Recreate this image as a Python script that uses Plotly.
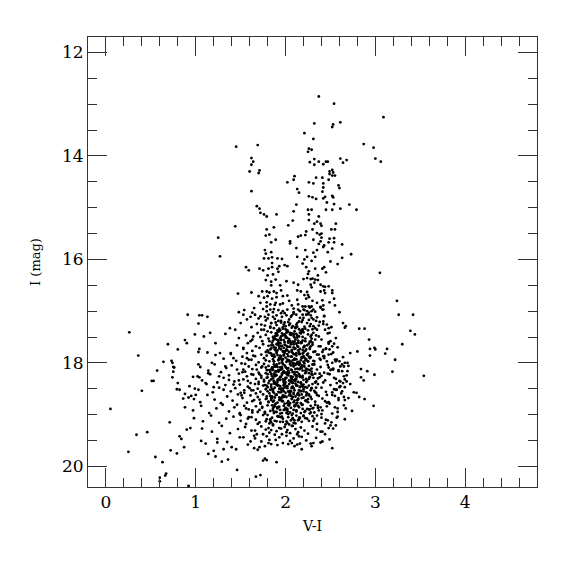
import plotly.graph_objects as go

# ---- data: (V-I, I) ----
stars_upper = [
    (1.45,13.82),(1.69,13.79),(1.62,14.04),(1.64,14.11),(1.62,14.17),(1.60,14.30),(1.71,14.28),(1.70,14.33),
    (1.62,14.68),(1.68,14.97),(1.71,15.02),(1.72,15.10),(1.76,15.13),(1.79,15.17),(1.90,15.13),(2.02,14.51),
    (2.09,14.46),(2.10,14.39),(2.13,14.64),(2.15,14.71),(2.12,14.94),(2.09,15.07),
    (2.37,12.85),(2.54,12.99),(3.09,13.25),(2.32,13.37),(2.53,13.39),(2.52,13.44),(2.61,13.35),(2.21,13.56),
    (2.31,13.67),(2.26,13.86),(2.29,13.88),(2.25,13.92),(2.87,13.77),(2.98,13.84),(3.00,14.05),(3.06,14.11),
    (2.27,14.12),(2.32,14.06),(2.32,14.17),(2.37,14.11),(2.42,14.16),(2.45,14.11),(2.47,14.11),(2.61,14.05),
    (2.64,14.13),(2.68,14.08),(2.52,14.27),(2.49,14.30),(2.53,14.32),(2.49,14.35),(2.52,14.38),(2.55,14.38),
    (2.34,14.42),(2.41,14.42),(2.48,14.46),(2.26,14.51),(2.31,14.53),(2.42,14.53),(2.59,14.57),(2.60,14.62),
    (2.42,14.61),(2.41,14.69),(2.26,14.78),(2.30,14.80),(2.34,14.83),(2.42,14.82),(2.44,14.79),(2.52,14.77),
    (2.53,14.80),(2.46,14.90),(2.54,14.93),(2.71,14.94),(2.25,15.04),(2.29,15.04),(2.45,15.04),(2.52,15.04),
    (2.61,15.02),(2.79,15.04),(2.26,15.13),(2.37,15.17),
]

stars_branch = [
    (1.44,15.36),(1.25,15.58),(1.27,15.94),(2.03,15.34),(2.08,15.25),(1.79,15.42),(1.87,15.38),(1.78,15.54),
    (1.82,15.52),(1.84,15.67),(1.89,15.62),(2.05,15.65),(2.05,15.69),(2.14,15.56),(2.12,15.78),(1.77,15.82),
    (1.78,15.89),(1.84,15.86),(1.76,15.98),(1.81,15.98),(1.85,15.96),(1.85,16.07),(1.91,15.98),(1.96,15.99),
    (2.13,15.95),(1.56,16.15),(1.59,16.21),(1.71,16.18),(1.75,16.21),(1.81,16.18),(1.85,16.15),(1.91,16.18),
    (1.93,16.13),(1.99,16.11),(2.02,16.13),(1.92,16.24),(1.80,16.31),(1.86,16.29),(1.78,16.40),(1.84,16.43),
    (1.89,16.39),(1.84,16.50),(1.94,16.50),(2.01,16.42),(2.09,16.45),(2.14,16.49),(2.13,16.60),(1.47,16.66),
    (1.62,16.64),(1.74,16.62),(1.79,16.62),(1.82,16.64),(1.87,16.62),(1.90,16.65),(1.95,16.60),(1.70,16.71),
    (1.76,16.74),(1.80,16.71),(1.85,16.76),(1.90,16.73),(1.97,16.71),(2.02,16.70),(2.04,16.80),(2.13,16.78),
    (1.72,16.84),(1.79,16.83),(1.83,16.87),(1.89,16.84),(1.94,16.87),(2.07,16.89),(2.14,16.87),(1.48,17.02),
    (1.54,16.98),(1.65,16.94),(1.75,16.96),(1.79,17.00),(1.83,16.97),(1.87,16.96),(1.92,16.98),(1.97,17.00),
    (2.02,16.97),(2.09,17.02),(1.61,17.11),(1.66,17.07),(1.72,17.10),(1.77,17.11),(1.81,17.07),(1.86,17.11),
    (1.90,17.08),(1.96,17.11),(2.01,17.08),(2.06,17.11),(2.12,17.07),(1.07,17.08),
    (2.26,15.24),(2.32,15.31),(2.35,15.27),(2.39,15.31),(2.40,15.35),(2.56,15.31),(2.51,15.42),(2.55,15.42),
    (2.30,15.42),(2.23,15.46),(2.17,15.54),(2.22,15.53),(2.35,15.49),(2.38,15.52),(2.40,15.50),(2.31,15.62),
    (2.40,15.58),(2.39,15.65),(2.49,15.60),(2.54,15.59),(2.48,15.67),(2.54,15.67),(2.63,15.71),(2.37,15.70),
    (2.42,15.76),(2.43,15.73),(2.52,15.79),(2.22,15.82),(2.31,15.87),(2.35,15.82),(2.47,15.86),(2.73,15.90),
    (2.24,15.95),(2.33,15.95),(2.63,15.97),(2.21,16.00),(2.29,16.03),(2.50,16.04),(2.58,16.09),(2.19,16.08),
    (2.23,16.15),(2.33,16.18),(2.41,16.18),(2.43,16.15),(2.45,16.25),(3.05,16.26),(2.26,16.23),(2.36,16.31),
    (2.25,16.28),(2.20,16.38),(2.24,16.36),(2.28,16.38),(2.30,16.37),(2.33,16.39),(2.36,16.40),(2.28,16.49),
    (2.32,16.45),(2.39,16.49),(2.42,16.52),(2.44,16.53),(2.48,16.52),(2.29,16.54),(2.39,16.62),(2.43,16.60),
    (2.44,16.65),(2.52,16.60),(2.52,16.65),(2.17,16.62),(2.24,16.63),(2.21,16.69),(2.25,16.69),(2.26,16.73),
    (2.23,16.76),(2.30,16.80),(2.35,16.84),(2.41,16.79),(2.49,16.83),(2.54,16.76),(3.24,16.80),(2.55,16.89),
    (2.19,16.91),(2.26,16.91),(2.29,16.91),(2.39,16.93),(2.42,16.89),(2.42,16.97),(2.16,17.00),(2.21,16.98),
    (2.24,17.00),(2.29,17.00),(2.33,17.01),(2.60,17.02),(2.19,17.07),(2.23,17.07),(2.28,17.08),(2.43,17.10),
    (3.26,17.07),(3.42,17.07),(2.16,17.13),(2.29,17.13),
]

stars_left = [
    (0.91,17.07),(1.04,17.08),(1.03,17.24),(0.26,17.41),(0.99,17.45),(0.88,17.56),(0.90,17.62),(0.69,17.64),
    (0.80,17.74),(1.04,17.73),(1.03,17.79),(0.36,17.86),(0.64,17.98),(0.73,17.96),(0.74,18.00),(0.75,18.08),
    (0.76,18.09),(1.03,18.03),(0.57,18.15),(0.75,18.17),(1.02,18.26),(1.04,18.28),(0.74,18.28),(0.51,18.35),
    (0.53,18.35),(0.80,18.39),(0.40,18.54),(0.79,18.51),(0.82,18.52),(0.99,18.50),(0.88,18.60),(1.00,18.62),
    (0.92,18.67),(0.98,18.70),
    (0.05,18.89),(0.71,19.15),(0.34,19.39),(0.46,19.34),(0.25,19.72),(0.55,19.82),(0.63,19.92),(0.72,19.69),
    (0.79,19.75),(0.82,19.42),(0.84,19.47),(0.90,19.29),(0.94,19.26),(0.87,19.63),(0.67,20.14),(0.66,20.18),
    (0.60,20.22),(0.60,20.29),(0.92,20.38),(1.46,20.07),(1.67,20.20),(1.72,20.17),(1.90,19.92),(1.75,19.89),
    (1.77,19.85),(1.79,19.88),(1.65,19.65),(1.69,19.68),(1.71,19.63),(1.77,19.61),(1.29,19.91),(1.36,19.87),
    (1.14,19.76),(1.20,19.70),(1.22,19.81),(1.40,19.63),(1.45,19.67),(1.11,19.56),(1.06,19.51),(1.31,19.67),
    (1.24,19.54),(2.10,19.61),(2.18,19.67),(2.16,19.56),(2.07,19.55),(2.31,19.55),(2.29,19.61),(2.39,19.54),
    (2.52,19.65),
    (1.13,17.11),(1.16,17.42),(1.09,17.49),(1.33,17.44),(1.38,17.33),(1.44,17.36),(1.50,17.23),(1.53,17.07),
    (1.57,17.16),(1.63,17.03),(1.48,17.52),(1.22,17.62),(1.27,17.81),(1.13,17.80),(1.39,17.81),(1.42,17.91),
    (1.53,17.71),(1.61,17.58),(1.64,17.49),(1.18,18.00),(1.33,18.07),(1.14,18.20),(1.26,18.26),(1.37,18.33),
    (1.11,18.39),(1.20,18.47),(1.31,18.52),(1.42,18.42),(1.50,18.58),(1.53,18.13),(1.59,17.94),
]

stars_right = [
    (2.98,18.83),(3.39,17.38),(3.44,17.45),(3.30,17.64),(2.82,17.34),(2.88,17.34),(2.64,17.23),(2.67,17.29),
    (2.66,17.32),(2.93,17.55),(2.94,17.73),(2.99,17.71),(3.00,17.74),(3.13,17.73),(3.11,17.82),(2.94,17.86),
    (2.80,17.78),(2.72,17.81),(3.22,17.94),(3.19,18.17),(3.54,18.25),(2.99,18.23),(2.84,18.12),(2.91,18.16),
    (2.84,18.28),(2.87,18.34),(2.76,18.57),(2.79,18.58),(2.82,18.66),(2.88,18.70),(2.66,18.00),(2.69,18.00),
    (2.65,18.07),(2.61,18.07),(2.56,17.97),(2.63,18.16),(2.59,18.14),(2.53,18.13),(2.50,18.14),(2.66,18.32),
    (2.68,18.36),(2.64,18.39),(2.57,18.39),(2.60,18.47),(2.63,18.55),(2.56,18.52),(2.52,18.57),(2.55,18.64),
    (2.65,18.66),(2.54,17.63),(2.49,17.74),(2.53,17.80),(2.45,17.73),(2.48,17.60),(2.50,17.58),(2.49,17.42),
    (2.48,17.33),(2.46,17.26),(2.42,17.20),(2.43,17.09),(2.41,16.97),(2.39,16.92),(2.55,17.94),(2.60,17.97),
    (2.52,18.00),(2.46,17.97),(2.39,17.94),(2.42,17.87),(2.37,17.84),(2.39,17.68),(2.33,17.55),(2.37,17.49),
    (2.31,17.42),(2.35,17.36),(2.27,17.29),(2.24,17.23),(2.31,17.16),(2.20,17.13),(2.26,17.03),(2.20,16.97),
    (2.31,16.97),(2.22,16.91),
]

# dense clump, band by band (V-I list, I list)
vi_b170 = [1.78,1.88,1.95,2.04,2.15,2.26,2.34,1.70,1.99,2.09]
i_b170 = [17.18,17.15,17.19,17.16,17.20,17.17,17.19,17.14,17.04,17.05]
vi_b172 = [1.62,1.68,1.73,1.77,1.80,1.84,1.87,1.90,1.92,1.95,1.97,2.00,2.02,2.05,2.07,2.10,2.12,2.15,2.18,2.21,
           2.25,2.28,2.33,2.37,2.44,2.51,1.83,1.93,2.03,2.13,1.98,2.08,1.89,2.19,2.30]
i_b172 = [17.31,17.25,17.36,17.28,17.39,17.23,17.33,17.27,17.38,17.22,17.34,17.29,17.37,17.24,17.32,17.39,17.26,17.35,17.21,17.30,
          17.37,17.25,17.33,17.28,17.36,17.31,17.30,17.34,17.21,17.23,17.26,17.29,17.22,17.38,17.35]
vi_b174 = [1.56,1.63,1.69,1.74,1.78,1.81,1.84,1.86,1.88,1.90,1.92,1.94,1.96,1.98,2.00,2.02,2.04,2.06,2.08,2.10,2.12,2.14,2.16,
           2.19,2.22,2.25,2.29,2.34,2.40,2.47,2.56,1.87,1.91,1.95,1.99,2.03,2.07,2.11,2.15,2.20,1.82,2.01,2.09,2.27,1.72]
i_b174 = [17.47,17.55,17.42,17.58,17.46,17.53,17.41,17.57,17.49,17.44,17.59,17.52,17.43,17.56,17.48,17.41,17.54,17.46,17.59,17.51,
          17.44,17.57,17.42,17.50,17.58,17.45,17.53,17.47,17.55,17.43,17.52,17.52,17.47,17.56,17.45,17.58,17.43,17.55,17.49,17.41,
          17.58,17.51,17.48,17.59,17.50]
vi_b176 = [1.46,1.53,1.58,1.63,1.67,1.71,1.75,1.78,1.81,1.83,1.85,1.87,1.89,1.91,1.93,1.95,1.97,1.99,2.01,2.03,2.05,2.07,2.09,
           2.11,2.13,2.15,2.17,2.19,2.21,2.24,2.27,2.30,2.33,2.37,2.42,2.48,2.58,1.86,1.90,1.94,1.98,2.02,2.06,2.10,2.14,2.18,
           2.22,1.88,1.96,2.04,2.12,2.20,1.80,2.28,1.92]
i_b176 = [17.66,17.73,17.62,17.77,17.68,17.71,17.64,17.79,17.67,17.74,17.61,17.70,17.76,17.63,17.72,17.68,17.78,17.65,17.74,17.61,
          17.69,17.77,17.64,17.72,17.67,17.79,17.62,17.75,17.69,17.66,17.73,17.61,17.78,17.68,17.75,17.63,17.70,17.66,17.79,17.62,
          17.71,17.76,17.64,17.73,17.69,17.61,17.77,17.74,17.67,17.79,17.63,17.70,17.76,17.68,17.65]
vi_b178 = [1.22,1.31,1.39,1.45,1.52,1.57,1.62,1.66,1.70,1.73,1.76,1.79,1.82,1.84,1.86,1.88,1.90,1.92,1.94,1.96,1.98,2.00,2.02,
           2.04,2.06,2.08,2.10,2.12,2.14,2.16,2.18,2.20,2.22,2.25,2.28,2.31,2.35,2.38,2.43,2.51,2.57,2.64,1.87,1.91,1.95,1.99,
           2.03,2.07,2.11,2.15,2.19,2.23,1.85,1.93,2.01,2.09,2.17,1.81,2.26,1.97]
i_b178 = [17.85,17.92,17.83,17.96,17.88,17.81,17.94,17.87,17.99,17.84,17.91,17.86,17.97,17.82,17.93,17.88,17.81,17.95,17.86,17.99,
          17.84,17.90,17.83,17.97,17.88,17.81,17.94,17.86,17.98,17.83,17.91,17.87,17.95,17.82,17.89,17.96,17.84,17.92,17.87,17.83,
          17.94,17.89,17.97,17.85,17.92,17.81,17.96,17.88,17.84,17.99,17.82,17.93,17.86,17.90,17.98,17.83,17.95,17.80,17.88,17.93]
vi_b180 = [1.05,1.14,1.21,1.28,1.34,1.40,1.46,1.51,1.55,1.59,1.63,1.67,1.70,1.73,1.76,1.79,1.81,1.83,1.85,1.87,1.89,1.91,1.93,
           1.95,1.97,1.99,2.01,2.03,2.05,2.07,2.09,2.11,2.13,2.15,2.17,2.19,2.21,2.23,2.26,2.29,2.32,2.35,2.39,2.43,2.47,2.53,
           2.59,2.70,1.86,1.90,1.94,1.98,2.02,2.06,2.10,2.14,2.18,2.22,1.88,1.96,2.04,2.12,2.20,1.84,1.92,2.00,2.08,2.16,1.78,2.27]
i_b180 = [18.08,18.15,18.03,18.18,18.10,18.05,18.13,18.01,18.17,18.07,18.12,18.04,18.19,18.09,18.02,18.14,18.06,18.18,18.11,18.03,
          18.16,18.08,18.01,18.13,18.19,18.05,18.10,18.17,18.02,18.14,18.07,18.12,18.18,18.04,18.09,18.15,18.01,18.11,18.06,18.17,
          18.03,18.13,18.08,18.19,18.04,18.11,18.16,18.06,18.14,18.03,18.09,18.16,18.12,18.05,18.18,18.01,18.10,18.15,18.07,18.11,
          18.19,18.02,18.06,18.13,18.17,18.08,18.01,18.12,18.09,18.14]
vi_b182 = [0.97,1.07,1.16,1.24,1.31,1.37,1.43,1.48,1.53,1.57,1.61,1.64,1.67,1.70,1.73,1.76,1.78,1.80,1.82,1.84,1.86,1.88,1.90,
           1.92,1.94,1.96,1.98,2.00,2.02,2.04,2.06,2.08,2.10,2.12,2.14,2.16,2.18,2.20,2.22,2.24,2.27,2.30,2.33,2.36,2.40,2.44,
           2.49,2.54,2.61,2.68,1.87,1.91,1.95,1.99,2.03,2.07,2.11,2.15,2.19,2.23,1.85,1.93,2.01,2.09,2.17,1.89,1.97,2.05,2.13,
           1.79,2.26,1.71,1.58,2.38,2.47]
i_b182 = [18.27,18.34,18.22,18.38,18.29,18.24,18.36,18.21,18.32,18.26,18.39,18.23,18.31,18.37,18.25,18.33,18.20,18.28,18.35,18.22,
          18.30,18.38,18.24,18.32,18.27,18.21,18.36,18.29,18.23,18.34,18.26,18.39,18.22,18.31,18.37,18.25,18.28,18.33,18.20,18.35,
          18.27,18.23,18.38,18.30,18.25,18.34,18.22,18.29,18.36,18.24,18.21,18.33,18.27,18.39,18.24,18.31,18.35,18.22,18.28,18.37,
          18.26,18.30,18.21,18.34,18.38,18.23,18.32,18.36,18.26,18.29,18.31,18.22,18.35,18.28,18.21]
vi_b184 = [0.93,1.03,1.12,1.19,1.26,1.33,1.39,1.44,1.49,1.54,1.58,1.62,1.66,1.69,1.72,1.75,1.78,1.80,1.82,1.84,1.86,1.88,1.90,
           1.92,1.94,1.96,1.98,2.00,2.02,2.04,2.06,2.08,2.10,2.12,2.14,2.16,2.18,2.20,2.23,2.26,2.29,2.32,2.36,2.40,2.45,2.50,
           2.57,2.66,1.87,1.91,1.95,1.99,2.03,2.07,2.11,2.15,2.19,1.85,1.93,2.01,2.09,2.17,1.77,1.89,1.97,2.05,2.13,2.24,1.64,2.34]
i_b184 = [18.45,18.52,18.41,18.57,18.48,18.43,18.55,18.49,18.42,18.58,18.46,18.53,18.41,18.50,18.56,18.44,18.51,18.47,18.59,18.42,
          18.54,18.48,18.41,18.56,18.45,18.52,18.43,18.58,18.49,18.41,18.55,18.46,18.53,18.44,18.59,18.47,18.42,18.51,18.57,18.44,
          18.49,18.54,18.41,18.48,18.56,18.43,18.52,18.47,18.58,18.44,18.50,18.42,18.55,18.47,18.40,18.53,18.46,18.51,18.57,18.45,
          18.49,18.54,18.43,18.41,18.50,18.56,18.44,18.48,18.53,18.58]
vi_b186 = [0.86,0.95,1.05,1.13,1.21,1.28,1.35,1.41,1.47,1.52,1.57,1.61,1.65,1.69,1.72,1.75,1.78,1.81,1.83,1.85,1.87,1.89,1.91,
           1.93,1.95,1.97,1.99,2.01,2.03,2.05,2.07,2.09,2.11,2.13,2.15,2.17,2.20,2.23,2.26,2.29,2.33,2.37,2.41,2.46,2.52,2.59,
           2.70,1.86,1.90,1.94,1.98,2.02,2.06,2.10,2.14,2.18,1.88,1.96,2.04,2.12,1.79,2.25,1.63,2.35,2.48]
i_b186 = [18.69,18.64,18.76,18.62,18.71,18.78,18.65,18.73,18.61,18.68,18.77,18.63,18.72,18.66,18.79,18.61,18.70,18.75,18.64,18.68,
          18.73,18.62,18.77,18.67,18.71,18.63,18.79,18.66,18.74,18.61,18.69,18.76,18.65,18.72,18.63,18.78,18.67,18.73,18.61,18.70,
          18.75,18.64,18.69,18.77,18.62,18.72,18.68,18.75,18.62,18.71,18.66,18.78,18.64,18.73,18.69,18.61,18.67,18.74,18.63,18.79,
          18.65,18.70,18.74,18.62,18.76]
vi_b188 = [0.88,0.97,1.06,1.15,1.23,1.30,1.37,1.43,1.49,1.54,1.59,1.63,1.67,1.71,1.74,1.77,1.80,1.83,1.86,1.88,1.90,1.92,1.94,
           1.96,1.98,2.00,2.02,2.04,2.06,2.08,2.10,2.12,2.15,2.18,2.21,2.24,2.28,2.32,2.36,2.41,2.46,2.52,2.58,2.65,2.74,1.87,
           1.93,1.99,2.05,2.11,1.91,2.03,1.69,2.26,2.39]
i_b188 = [18.86,18.92,18.83,18.97,18.88,18.81,18.94,18.86,18.99,18.83,18.90,18.96,18.84,18.91,18.87,18.98,18.82,18.93,18.88,18.81,
          18.95,18.85,18.91,18.97,18.83,18.89,18.94,18.82,18.87,18.98,18.84,18.92,18.86,18.81,18.95,18.89,18.83,18.96,18.87,18.92,
          18.84,18.98,18.88,18.82,18.93,18.97,18.85,18.91,18.96,18.83,18.88,18.82,18.95,18.90,18.86]
vi_b190 = [0.98,1.08,1.17,1.26,1.34,1.42,1.50,1.56,1.62,1.67,1.71,1.75,1.79,1.82,1.85,1.88,1.91,1.94,1.97,2.00,2.03,2.06,2.09,
           2.12,2.15,2.18,2.22,2.26,2.30,2.35,2.40,2.45,2.51,2.58,2.66,1.90,1.96,2.02,2.08,2.14,1.86,2.20,1.78,2.32,2.44]
i_b190 = [19.07,19.13,19.02,19.16,19.08,19.04,19.12,19.18,19.05,19.10,19.15,19.01,19.09,19.17,19.06,19.12,19.03,19.14,19.08,19.19,
          19.05,19.11,19.16,19.02,19.09,19.14,19.07,19.12,19.03,19.18,19.06,19.10,19.15,19.04,19.09,19.13,19.04,19.16,19.07,19.11,
          19.19,19.03,19.13,19.08,19.17]
vi_b192 = [1.07,1.18,1.29,1.38,1.47,1.55,1.62,1.68,1.73,1.78,1.82,1.86,1.90,1.93,1.96,1.99,2.02,2.05,2.08,2.11,2.14,2.17,2.21,
           2.25,2.30,2.35,2.41,2.48,2.56,1.88,1.95,2.01,2.07,2.13,1.84]
i_b192 = [19.27,19.33,19.22,19.36,19.28,19.24,19.31,19.38,19.23,19.29,19.35,19.21,19.32,19.26,19.38,19.24,19.30,19.36,19.22,19.28,
          19.34,19.25,19.31,19.37,19.23,19.29,19.33,19.26,19.21,19.39,19.27,19.34,19.22,19.38,19.30]
vi_b194 = [1.24,1.35,1.49,1.58,1.66,1.73,1.79,1.84,1.89,1.93,1.97,2.01,2.05,2.09,2.13,2.18,2.23,2.28,2.34,2.41,2.49,1.91,2.03,
           1.81,2.15]
i_b194 = [19.47,19.53,19.44,19.58,19.46,19.52,19.42,19.57,19.49,19.44,19.55,19.41,19.51,19.46,19.58,19.43,19.50,19.56,19.45,19.52,
          19.48,19.59,19.57,19.55,19.42]

# extra stars filling the crowded core and its flanks
vi_core_a = [2.17,1.89,2.05,1.93,2.28,1.84,2.11,1.99,2.23,1.87,2.02,2.14,1.95,2.31,1.91,2.08,2.19,1.85,2.04,1.97,2.26,2.13,1.88,
             2.00,2.21,1.94,2.09,1.83,2.16,2.06,1.92,2.24,2.01,1.86,2.12,1.98,2.29,2.03,1.90,2.18,2.07,1.96,2.22,1.84,2.10,2.15,
             1.89,2.27,2.05,1.93,2.20,1.99,2.13,1.87,2.30,2.02,1.95,2.09,2.25,1.91]
i_core_a = [17.43,17.71,17.58,17.92,17.49,17.66,17.83,17.45,17.74,17.97,17.52,17.61,17.88,17.79,17.41,17.95,17.57,17.86,17.69,17.47,
            17.63,17.99,17.54,17.77,17.90,17.62,17.44,17.81,17.73,17.98,17.56,17.85,17.67,17.50,17.93,17.78,17.46,17.87,17.64,17.40,
            17.75,17.96,17.53,17.72,17.59,17.82,17.48,17.91,17.42,17.68,17.80,17.60,17.51,17.84,17.65,17.94,17.55,17.70,17.97,17.76]
vi_core_b = [1.94,2.21,1.83,2.08,2.30,1.97,2.14,1.88,2.02,2.25,1.91,2.17,1.85,2.06,2.33,1.99,2.11,1.81,2.23,2.04,1.93,2.19,1.87,
             2.09,2.28,1.96,2.13,1.84,2.01,2.24,1.90,2.16,2.07,1.82,2.31,1.98,2.12,1.86,2.20,2.03,1.95,2.27,1.89,2.10,2.18,1.92,
             2.05,2.34,1.80,2.15,2.00,2.22,1.87,2.09,1.96,2.26,2.12,1.84,2.03,2.19,1.93,2.29,2.07,1.98,2.14]
i_core_b = [18.33,18.07,18.52,18.18,18.41,18.02,18.58,18.26,18.45,18.13,18.37,18.55,18.09,18.29,18.21,18.48,18.04,18.39,18.31,18.57,
            18.15,18.44,18.35,18.01,18.53,18.23,18.11,18.46,18.19,18.59,18.06,18.27,18.49,18.14,18.03,18.38,18.24,18.56,18.42,18.10,
            18.51,18.28,18.17,18.34,18.05,18.43,18.54,18.36,18.22,18.12,18.30,18.47,18.40,18.58,18.08,18.20,18.44,18.32,18.16,18.25,
            18.50,18.11,18.38,18.55,18.02]
vi_core_c = [2.08,1.86,2.23,1.95,2.14,1.79,2.01,2.30,1.90,2.17,1.83,2.05,2.26,1.98,2.11,1.87,2.20,1.93,2.03,2.33,1.77,2.10,1.96,
             2.24,1.89,2.15,2.00,1.84,2.28,2.07,1.92,2.19,1.81,2.12,1.99,2.31,1.88,2.04,2.22,1.94,2.16,1.85,2.09,2.27,1.97,2.13,
             1.80,2.02,2.18,1.91]
i_core_c = [18.66,18.92,18.74,19.05,18.83,18.69,19.13,18.88,18.61,18.97,19.09,18.78,18.63,18.91,19.17,18.85,19.02,18.72,18.99,18.81,
            18.95,19.11,18.67,19.08,18.79,18.62,18.87,19.15,18.96,18.70,19.04,18.89,18.76,18.94,18.64,19.12,18.84,19.19,18.73,18.98,
            19.06,18.82,18.60,18.90,19.14,18.77,19.01,18.93,18.68,18.86]
vi_core_d = [2.06,1.92,2.19,1.87,2.12,2.00,2.25,1.95,2.09,1.89,2.15,2.03,2.28,1.97,2.10,1.86,2.21,2.01,1.93,2.16,2.07,1.90,2.23,
             1.98,2.13,1.88,2.04,2.27,1.96,2.11,2.18,1.91,2.05,2.30,1.99,2.14,1.87,2.08,2.20,1.94,2.02,2.24,1.89,2.17,2.06,1.95,
             2.12,2.29,1.92,2.01]
i_core_d = [17.62,18.14,17.35,17.88,18.26,17.51,17.97,17.74,18.05,17.43,17.83,18.21,17.58,17.31,17.92,18.09,17.67,18.29,17.39,18.01,
            17.79,17.55,18.17,17.86,17.47,18.24,17.95,17.71,18.11,17.33,17.89,17.64,17.45,18.03,18.19,17.76,17.53,18.27,17.98,17.37,
            17.69,17.84,18.07,17.60,18.13,17.49,17.81,18.22,17.94,17.41]
vi_core_e = [1.98,2.14,1.87,2.22,2.05,1.93,2.29,2.10,1.85,2.17,2.01,1.96,2.25,2.08,1.90,2.13,2.31,1.99,2.04,1.88,2.20,2.11,1.94,
             2.27,2.02,1.86,2.16,2.07,1.97,2.23,1.91,2.12,2.00,2.19,1.84,2.06,2.28,1.95,2.09,2.15]
i_core_e = [18.44,18.71,18.36,18.93,18.58,19.04,18.49,18.82,18.65,18.39,18.97,18.53,18.76,19.08,18.42,18.61,18.87,18.33,18.79,18.95,
            18.55,18.31,18.68,18.98,18.89,18.51,18.46,19.01,18.74,18.63,18.86,18.93,18.38,18.81,18.72,18.35,18.66,18.57,18.91,19.06]
vi_core_f = [1.84,2.11,1.76,2.27,1.95,2.04,2.38,1.88,2.17,1.80,2.00,2.31,1.92,2.14,1.73,2.07,2.22,1.97,1.86,2.35,2.02,1.79,2.19,
             1.91,2.09,2.42,1.83,2.25,1.99,2.13]
i_core_f = [17.23,17.31,17.36,16.93,17.04,17.27,17.21,16.88,17.38,17.14,17.35,17.29,17.19,16.97,17.26,17.08,17.34,16.85,17.02,17.12,
            17.39,16.91,17.17,17.37,16.95,17.25,17.32,17.06,17.22,17.30]
vi_flank_l = [1.62,1.78,1.51,1.70,1.83,1.56,1.74,1.66,1.48,1.80,1.59,1.72,1.64,1.53,1.77,1.68,1.46,1.81,1.60,1.75,1.55,1.69,1.84,
              1.50,1.73,1.63,1.79,1.57,1.67,1.82,1.52,1.71,1.61,1.76,1.49,1.65,1.80,1.58,1.74,1.54]
i_flank_l = [18.22,17.95,18.63,18.41,19.12,18.88,18.07,19.31,18.34,18.55,19.05,18.77,17.86,19.44,18.96,18.13,18.81,19.26,18.49,19.38,
             18.02,19.18,18.68,19.01,18.29,18.92,18.44,17.91,18.59,19.49,18.18,18.71,19.52,18.36,18.97,19.41,18.14,19.08,18.85,18.53]
vi_flank_r = [2.38,2.52,2.44,2.61,2.35,2.48,2.67,2.41,2.56,2.33,2.50,2.63,2.46,2.39,2.58,2.72,2.43,2.54,2.36,2.65,2.47,2.32,2.59,
              2.42,2.53,2.69,2.37,2.49,2.62,2.45,2.34,2.57,2.40,2.51,2.66,2.44,2.55,2.31,2.60,2.48]
i_flank_r = [18.21,17.68,18.74,18.45,19.02,18.09,18.88,17.79,18.31,18.57,19.21,18.03,18.62,19.33,18.95,18.41,17.91,18.51,18.83,18.26,
             19.11,17.97,18.68,18.38,19.27,18.16,18.92,18.79,18.59,17.72,18.48,19.06,18.99,18.13,18.72,19.38,18.86,18.29,18.35,17.84]

x_ticks = [0, 1, 2, 3, 4]
y_ticks = [12, 14, 16, 18, 20]

# ---- assemble ----
vi_all, i_all = [], []
for group in (stars_upper, stars_branch, stars_left, stars_right):
    for v, m in group:
        vi_all.append(v)
        i_all.append(m)
for vx, iy in ((vi_b170, i_b170), (vi_b172, i_b172), (vi_b174, i_b174), (vi_b176, i_b176),
               (vi_b178, i_b178), (vi_b180, i_b180), (vi_b182, i_b182), (vi_b184, i_b184),
               (vi_b186, i_b186), (vi_b188, i_b188), (vi_b190, i_b190), (vi_b192, i_b192),
               (vi_b194, i_b194), (vi_core_a, i_core_a), (vi_core_b, i_core_b), (vi_core_c, i_core_c),
               (vi_core_d, i_core_d), (vi_core_e, i_core_e), (vi_core_f, i_core_f),
               (vi_flank_l, i_flank_l), (vi_flank_r, i_flank_r)):
    for v, m in zip(vx, iy):
        vi_all.append(v)
        i_all.append(m)

AX = '#333333'
FONT = 'DejaVu Serif'

fig = go.Figure(go.Scatter(
    x=vi_all, y=i_all, mode='markers',
    marker=dict(color='black', size=2.8, line=dict(width=0)),
    hoverinfo='skip',
))

axis_common = dict(
    showline=True, linecolor=AX, linewidth=1, mirror='ticks',
    ticks='inside', ticklen=19, tickwidth=1, tickcolor=AX,
    showgrid=False, zeroline=False,
    tickfont=dict(family=FONT, size=17, color='black'),
)

fig.update_xaxes(
    range=[-0.2, 4.8], tickvals=x_ticks, ticktext=[str(t) for t in x_ticks],
    minor=dict(dtick=0.2, tick0=0, ticks='inside', ticklen=9, tickwidth=1, tickcolor=AX, showgrid=False),
    title=dict(text='V-I', font=dict(family=FONT, size=14, color='black'), standoff=9),
    **axis_common,
)
fig.update_yaxes(
    range=[20.4, 11.7], tickvals=y_ticks, ticktext=[str(t) for t in y_ticks],
    minor=dict(dtick=0.5, tick0=12, ticks='inside', ticklen=9, tickwidth=1, tickcolor=AX, showgrid=False),
    title=dict(text='I (mag)', font=dict(family=FONT, size=13, color='black'), standoff=18),
    **axis_common,
)

fig.update_layout(
    width=575, height=575,
    margin=dict(l=80, r=46, t=29, b=96),
    plot_bgcolor='white', paper_bgcolor='white',
    showlegend=False,
)

fig.write_html("out.html")
